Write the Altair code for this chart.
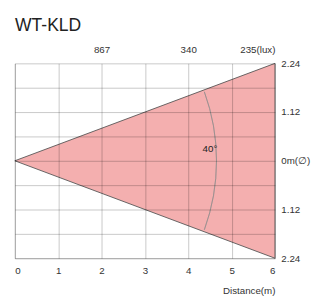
import math
import altair as alt
import pandas as pd

# ---- data ----
distance = [0, 6]                 # m
half_width = [0, 2.24]            # m (beam radius)
x_ticks = [0, 1, 2, 3, 4, 5, 6]
lux_at = [2, 4, 6]
lux_text = ["867", "340", "235(lux)"]
grid_y = [-2.24, -1.68, -1.12, -0.56, 0, 0.56, 1.12, 1.68, 2.24]
label_y = [-2.24, -1.12, 0, 1.12, 2.24]
beam_angle = 40                   # degrees
angle_label = ["40°"]
angle_label_pos = [4.5, 0.28]

FONT = "Liberation Sans"

cone = pd.DataFrame({"d": distance, "w": half_width, "nw": [-v for v in half_width]})
half = math.radians(beam_angle / 2)
arc_df = pd.DataFrame({"d": [0], "w": [0],
                       "t1": [math.pi / 2 - half], "t2": [math.pi / 2 + half]})
lbl_df = pd.DataFrame({"d": [angle_label_pos[0]], "w": [angle_label_pos[1]], "txt": angle_label})

xs = alt.Scale(domain=[0, 6], nice=False, zero=False)
ys = alt.Scale(domain=[-2.24, 2.24], nice=False, zero=False)

lux_expr = " : ".join(
    [f"datum.value == {v} ? '{t}'" for v, t in zip(lux_at, lux_text)]) + " : ''"

grid_style = dict(gridColor="#000000", gridOpacity=0.22, domainColor="#000000",
                  domainOpacity=0.22, zindex=1)

bottom_axis = alt.Axis(values=x_ticks, grid=True, ticks=False, **grid_style,
                       labelFont=FONT, labelFontSize=10,
                       labelColor="#333", labelPadding=8, title="Distance(m)",
                       titleFont=FONT, titleFontSize=10, titleFontWeight="normal",
                       titleColor="#333", titleAnchor="end", titlePadding=10)
right_axis = alt.Axis(orient="right", values=label_y, grid=False, ticks=False, domain=False,
                      labelFont=FONT, labelFontSize=10, labelColor="#333",
                      labelPadding=6, title=None,
                      labelExpr="datum.value == 0 ? '0m(∅)' : format(abs(datum.value), '.2f')")
top_axis = alt.Axis(orient="top", values=lux_at, grid=False, ticks=False, domain=False,
                    labelFont=FONT, labelFontSize=10, labelColor="#333",
                    labelPadding=9, title=None, labelExpr=lux_expr)
left_axis = alt.Axis(orient="left", values=grid_y, grid=True, ticks=False, labels=False,
                     title=None, **grid_style)

area = alt.Chart(cone).mark_area(
    fill="#f4afaf", fillOpacity=1, stroke="#555555", strokeWidth=0.9
).encode(
    x=alt.X("d:Q", scale=xs, axis=bottom_axis),
    y=alt.Y("w:Q", scale=ys, axis=right_axis),
    y2="nw:Q",
)

ghost = alt.Chart(cone).mark_point(opacity=0).encode(
    x=alt.X("d:Q", scale=xs, axis=top_axis),
    y=alt.Y("w:Q", scale=ys, axis=left_axis),
)

arc = alt.Chart(arc_df).mark_arc(
    radius=207, innerRadius=207, filled=False, stroke="#8a8a8a", strokeWidth=0.6, fillOpacity=0
).encode(
    x=alt.X("d:Q", scale=xs, axis=None),
    y=alt.Y("w:Q", scale=ys, axis=None),
    theta=alt.Theta("t1:Q", scale=None),
    theta2="t2:Q",
)

txt = alt.Chart(lbl_df).mark_text(font=FONT, fontSize=10, color="#222").encode(
    x=alt.X("d:Q", scale=xs, axis=None),
    y=alt.Y("w:Q", scale=ys, axis=None),
    text="txt:N",
)

chart = alt.layer(ghost, area, arc, txt).resolve_axis(
    x="independent", y="independent"
).properties(
    width=267, height=200,
    autosize=alt.AutoSizeParams(type="none"),
    padding={"left": 7, "top": 53, "right": 38, "bottom": 37},
    title=alt.TitleParams("WT-KLD", anchor="start", font=FONT, fontSize=18,
                          fontWeight="normal", color="#222", offset=10, dx=3),
).configure_view(stroke=None)

chart.save("out.html", embed_options={"renderer": "svg", "actions": False})
